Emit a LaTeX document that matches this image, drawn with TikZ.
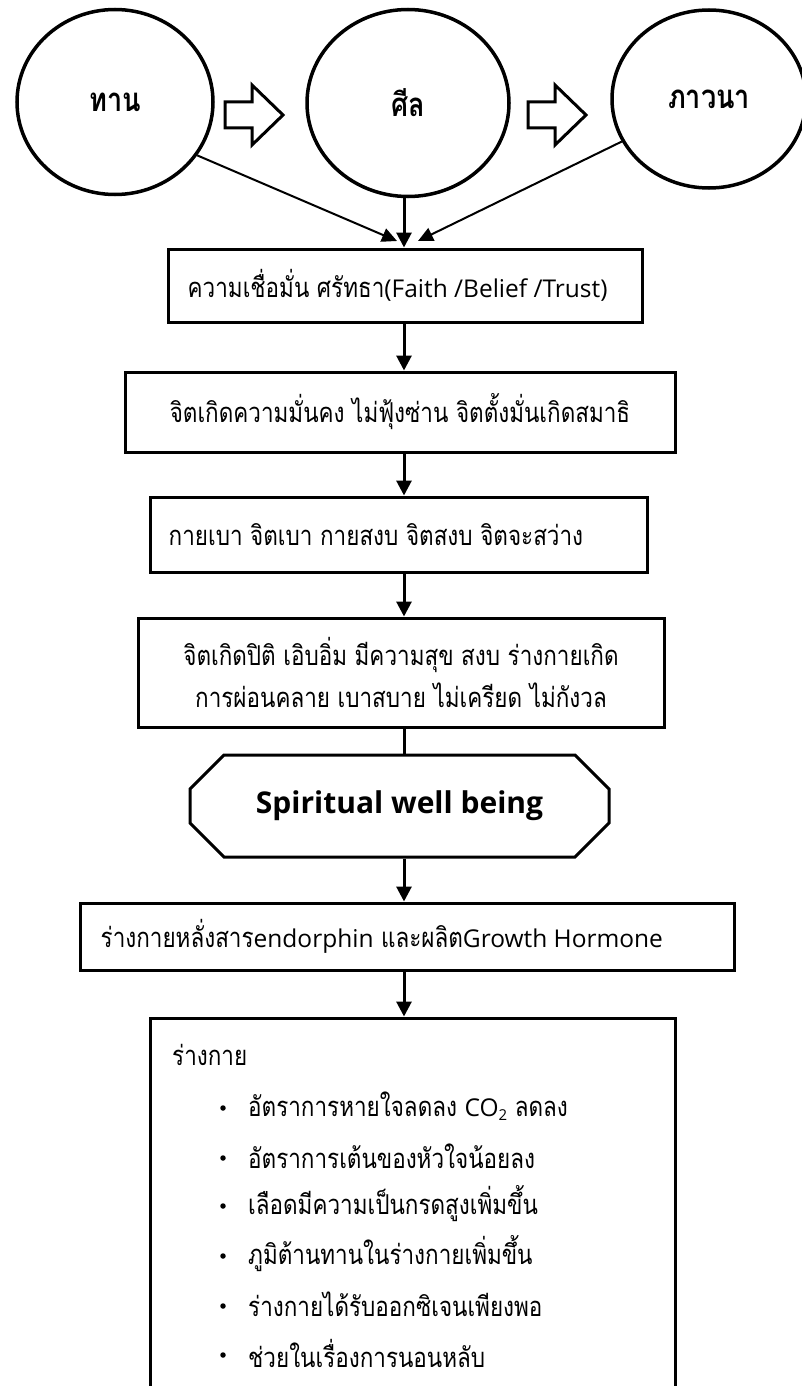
\documentclass[tikz,border=0pt]{standalone}
\usepackage{fontspec}
\setmainfont{Open Sans}
\newfontfamily\thai[Script=Thai, FakeStretch=0.82]{Loma}
\newfontfamily\lat{Open Sans}
\newcommand\la[1]{{\lat\fontsize{24.5}{42}\selectfont #1}}
\usetikzlibrary{shapes.geometric,shapes.misc,arrows.meta}
\tikzset{
  box/.style={draw, line width=3pt, inner sep=0pt},
  txt/.style={inner sep=0pt, font=\thai\fontsize{27.4}{42}\selectfont},
  circ/.style={draw, ellipse, line width=3.5pt, inner sep=0pt, font=\thai\bfseries\fontsize{33}{36}\selectfont},
  conn/.style={line width=3pt, -{Triangle[length=15pt,width=15pt]}},
  plain/.style={line width=3pt},
  thinconn/.style={line width=2pt, -{Triangle[length=15pt,width=14pt]}},
  blk/.style={draw, line width=3pt, line join=miter, fill=white},
  bul/.style={circle, fill=black, inner sep=0pt, minimum size=5.5pt}
}
\newcommand\blockarrow[1]{%
  \draw[blk] (#1) ++(0,-13) -- ++(27,0) -- ++(0,-17) -- ++(31,30) -- ++(-31,30) -- ++(0,-17) -- ++(-27,0) -- cycle;}
\begin{document}
\begin{tikzpicture}[x=1pt,y=-1pt]
\useasboundingbox (0,0) rectangle (802,1386);
\clip (0,0) rectangle (802,1386);
% circles
\node[circ, minimum width=196pt, minimum height=185pt] (c1) at (115,102) {ทาน};
\node[circ, minimum width=202pt, minimum height=187pt] (c2) at (408,103) {ศีล};
\node[circ, minimum width=194pt, minimum height=178pt] (c3) at (709,99) {ภาวนา};
% block arrows
\coordinate (ba1) at (225,115);
\coordinate (ba2) at (528,115);
\blockarrow{ba1}
\blockarrow{ba2}
% boxes
\node[box, minimum width=474pt, minimum height=73pt] (b1) at (405,285.5) {};
\node[box, minimum width=550pt, minimum height=80pt] (b2) at (400,412) {};
\node[box, minimum width=497pt, minimum height=75pt] (b3) at (398.5,534.5) {};
\node[box, minimum width=526pt, minimum height=109pt] (b4) at (401,672.5) {};
\node[box, chamfered rectangle, chamfered rectangle xsep=19pt, chamfered rectangle ysep=19pt,
      minimum width=419pt, minimum height=102pt, font=\lat\bfseries\fontsize{30}{34}\selectfont] (oct) at (399.5,806) {Spiritual well being};
\node[box, minimum width=654pt, minimum height=67pt] (b5) at (407,936.5) {};
\node[box, minimum width=525pt, minimum height=382pt] (b6) at (412.5,1209) {};
% texts
\node[txt, anchor=west] (t1) at ([xshift=21pt]b1.west) {ความเชื่อมั่น ศรัทธา\la{(Faith /Belief /Trust)}};
\node[txt] (t2) at (b2.center) {จิตเกิดความมั่นคง ไม่ฟุ้งซ่าน จิตตั้งมั่นเกิดสมาธิ};
\node[txt, anchor=west] (t3) at ([xshift=20pt]b3.west) {กายเบา จิตเบา กายสงบ จิตสงบ จิตจะสว่าง};
\node[txt, align=center] (t4) at (b4.center) {จิตเกิดปิติ เอิบอิ่ม มีความสุข สงบ ร่างกายเกิด\\การผ่อนคลาย เบาสบาย ไม่เครียด ไม่กังวล};
\node[txt, anchor=west] (t5) at ([xshift=22pt]b5.west) {ร่างกายหลั่งสาร\la{endorphin} และผลิต\la{Growth Hormone}};
\node[txt, anchor=west] (t6) at (172,1055) {ร่างกาย};
\foreach \y/\name/\t in {1106/i1/{อัตราการหายใจลดลง \la{CO\raisebox{-0.35ex}{\fontsize{15}{15}\selectfont 2}} ลดลง},
                         1156/i2/{อัตราการเต้นของหัวใจน้อยลง},
                         1204/i3/{เลือดมีความเป็นกรดสูงเพิ่มขึ้น},
                         1254/i4/{ภูมิต้านทานในร่างกายเพิ่มขึ้น},
                         1304/i5/{ร่างกายได้รับออกซิเจนเพียงพอ},
                         1353/i6/{ช่วยในเรื่องการนอนหลับ}}{
  \node[bul] (d\name) at (223,\y+2) {};
  \node[txt, anchor=west] (\name) at (248,\y) {\t};
}
% connectors
\coordinate (ax) at (404,0);
\coordinate (e1) at (397,241);
\coordinate (e3) at (418,241);
\draw[thinconn] (c1.-33) -- (e1);
\draw[thinconn] (c3.206) -- (e3);
\draw[conn] (c2.south -| ax) -- (b1.north -| ax);
\draw[conn] (b1.south -| ax) -- (b2.north -| ax);
\draw[conn] (b2.south -| ax) -- (b3.north -| ax);
\draw[conn] (b3.south -| ax) -- (b4.north -| ax);
\draw[plain] (b4.south -| ax) -- (oct.north -| ax);
\draw[conn] (oct.south -| ax) -- (b5.north -| ax);
\draw[conn] (b5.south -| ax) -- (b6.north -| ax);
\end{tikzpicture}
\end{document}
